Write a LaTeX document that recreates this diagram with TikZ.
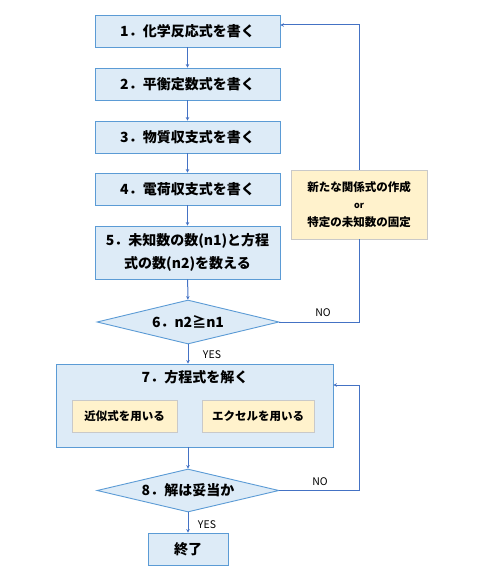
\documentclass[tikz,border=0pt]{standalone}
\usepackage{fontspec}
\setmainfont{Noto Sans CJK JP}
\usetikzlibrary{shapes.geometric,arrows.meta}
\definecolor{boxfill}{HTML}{DDEBF7}
\definecolor{boxline}{HTML}{5B9BD5}
\definecolor{notefill}{HTML}{FFF2CC}
\definecolor{noteline}{HTML}{C9C9C9}
\definecolor{flowline}{HTML}{4472C4}
\tikzset{
  stepbox/.style={draw=boxline, fill=boxfill, line width=0.9pt, minimum width=185pt,
    minimum height=32pt, inner sep=0pt, font=\fontsize{14}{23}\selectfont\bfseries, align=center},
  testbox/.style={diamond, aspect=4.14, draw=boxline, fill=boxfill, line width=0.9pt, minimum width=182pt,
    minimum height=44pt, inner sep=0pt, font=\fontsize{14}{16}\selectfont\bfseries},
  notebox/.style={draw=noteline, fill=notefill, line width=0.8pt, inner sep=0pt,
    font=\fontsize{11.5}{17.5}\selectfont\bfseries, align=center},
  flow/.style={draw=flowline, line width=1pt, -{Stealth[length=3.5pt,width=3.5pt]}},
  answer/.style={font=\fontsize{10.5}{12}\selectfont}
}
\begin{document}
\begin{tikzpicture}[x=1pt,y=-1pt]
\useasboundingbox (0,0) rectangle (480,583);
% steps 1 to 5
\foreach \i/\t/\y in {1/化学反応式を書く/31, 2/平衡定数式を書く/84, 3/物質収支式を書く/137, 4/電荷収支式を書く/189}
  \node[stepbox] (s\i) at (187.5,\y) {\i．\t};
\node[stepbox, minimum height=53pt] (s5) at (187.5,252.5) {5．未知数の数(n1)と方程\\式の数(n2)を数える};
\node[testbox] (d6) at (188,322) {6．n2≧n1};
\foreach \a/\b in {s1/s2, s2/s3, s3/s4, s4/s5, s5/d6}
  \draw[flow] (\a) -- (\b);
% loop back
\node[notebox, minimum width=136pt, minimum height=69pt] (fix) at (359,204.5)
  {新たな関係式の作成\\{\fontsize{9}{17.5}\selectfont or}\\特定の未知数の固定};
\draw[draw=flowline, line width=1pt] (d6.east) -| (fix.south);
\draw[flow] (fix.north) |- ([yshift=6pt]s1.east);
\node[answer] (no6) at (323,313) {NO};
% step 7
\node[stepbox, minimum width=277pt, minimum height=83pt] (s7) at (194.5,405.5) {};
\node[font=\fontsize{14}{16}\selectfont\bfseries] (t7) at (195,377) {7．方程式を解く};
\node[notebox, minimum width=105pt, minimum height=32pt] (m1) at (124.5,416) {近似式を用いる};
\node[notebox, minimum width=112pt, minimum height=32pt] (m2) at (258,416) {エクセルを用いる};
\draw[flow] (d6.south) -- (d6.south |- s7.north);
\node[answer] (yes6) at (212,355) {YES};
% step 8
\node[testbox, minimum height=43pt] (d8) at (188,490.5) {8．解は妥当か};
\draw[flow] (d8.north |- s7.south) -- (d8.north);
\draw[flow] (d8.east) -| ([xshift=26pt,yshift=20.5pt]s7.east) -- ([yshift=20.5pt]s7.east);
\node[answer] (no8) at (320,482) {NO};
\node[stepbox, minimum width=80pt] (end) at (188,549) {終了};
\draw[flow] (d8.south) -- (end.north);
\node[answer] (yes8) at (207,525) {YES};
\end{tikzpicture}
\end{document}
